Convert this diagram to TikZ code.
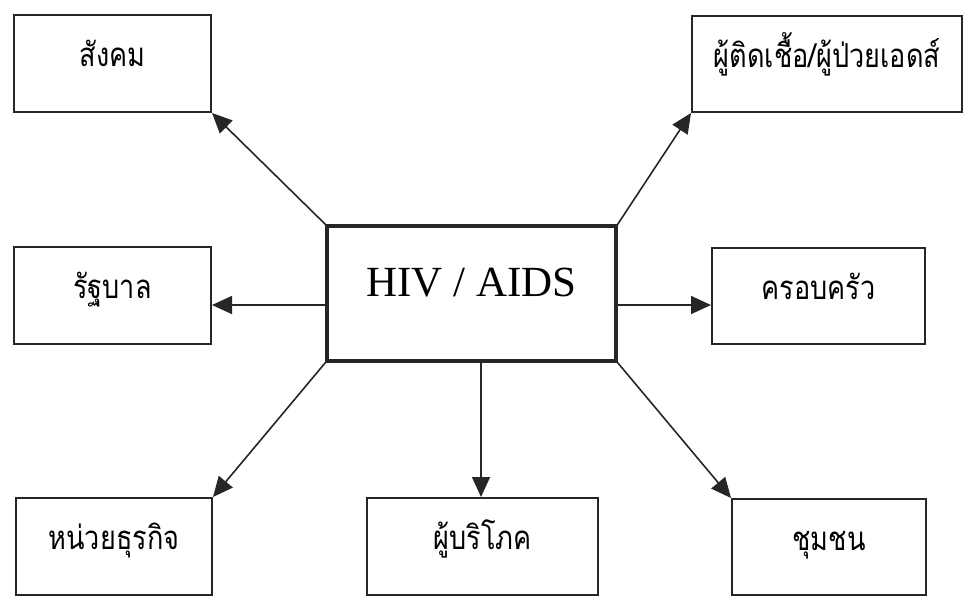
\documentclass[tikz,border=0pt]{standalone}
\usepackage{fontspec}
\setmainfont{Liberation Serif}
\newfontfamily\thaifont[Script=Thai,FakeStretch=0.82]{Loma}
\usepackage{tikz}
\usetikzlibrary{positioning,calc,arrows.meta}

\tikzset{
  box/.style={draw=black!85, line width=2pt, minimum height=97pt,
    text height=10pt, text depth=4pt, inner sep=0pt,
    font=\thaifont\fontsize{33pt}{36pt}\selectfont},
  hivbox/.style={box, line width=3.2pt, minimum width=289pt, minimum height=135pt,
    font=\fontsize{43pt}{48pt}\selectfont},
  arr/.style={draw=black!85, line width=1.6pt, -{Triangle[length=20pt,width=18pt]}}
}

\begin{document}
\begin{tikzpicture}[x=1pt,y=-1pt]
    \useasboundingbox (0,0) rectangle (963,600);

    % centre
    \node [hivbox] (hiv) at (471.5,293.5) {HIV / AIDS};

    % top row
    \node [box, minimum width=197pt] (social) at (112.5,63.5) {สังคม};
    \node [box, minimum width=270pt, minimum height=96pt] (patient) at (827,64) {ผู้ติดเชื้อ/ผู้ป่วยเอดส์};

    % middle row
    \node [box, minimum width=197pt] (govt) at (112.5,295.5) {รัฐบาล};
    \node [box, minimum width=213pt, minimum height=96pt] (family) at (818.5,296) {ครอบครัว};

    % bottom row
    \node [box, minimum width=196pt] (business) at (114,546.5) {หน่วยธุรกิจ};
    \node [box, minimum width=231pt] (consumer) at (482.5,546.5) {ผู้บริโภค};
    \node [box, minimum width=194pt, minimum height=96pt] (community) at (829,547) {ชุมชน};

    % arrows out of the centre box
    \coordinate (hivw) at ([yshift=-11.5pt]hiv.west);
    \coordinate (hive) at ([yshift=-11.5pt]hiv.east);
    \coordinate (hivs) at ([xshift=9.5pt]hiv.south);

    \draw [arr] (hiv.north west) -- (social.south east);
    \draw [arr] (hiv.north east) -- (patient.south west);
    \draw [arr] (hivw) -- (hivw -| govt.east);
    \draw [arr] (hive) -- (hive -| family.west);
    \draw [arr] (hiv.south west) -- (business.north east);
    \draw [arr] (hivs) -- (hivs |- consumer.north);
    \draw [arr] (hiv.south east) -- (community.north west);
\end{tikzpicture}
\end{document}
